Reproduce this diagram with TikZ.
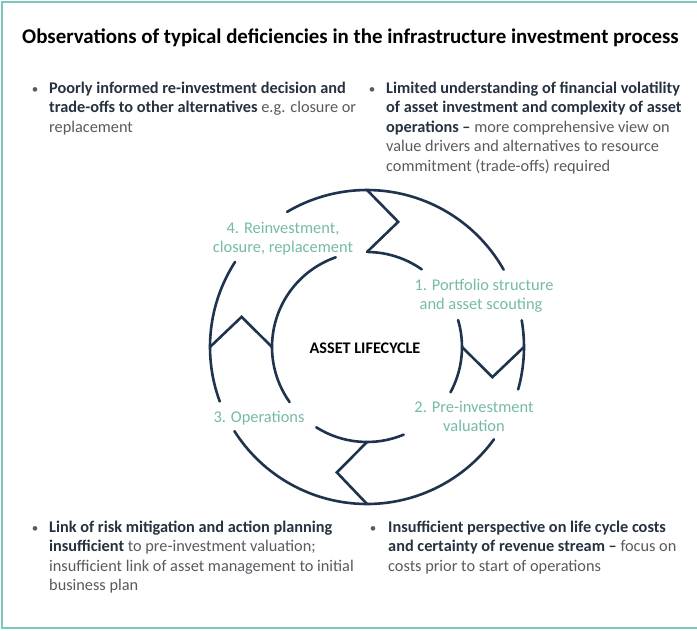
\documentclass[tikz,border=0pt]{standalone}
\usepackage{fontspec}
\setmainfont{Carlito}
\usetikzlibrary{calc}
\definecolor{ringc}{RGB}{31,50,78}
\definecolor{labc}{RGB}{118,186,170}
\definecolor{framec}{RGB}{125,200,187}
\definecolor{boldc}{RGB}{38,50,64}
\definecolor{regc}{RGB}{88,90,95}
\newcommand{\bt}[1]{\textcolor{boldc}{\bfseries #1}}
\begin{document}
\begin{tikzpicture}[x=1pt,y=-1pt,
  ring/.style={draw=ringc, line width=2.6pt, line cap=round, line join=miter},
  txt/.style={anchor=base west, inner sep=0pt, font=\fontsize{16.3}{19}\selectfont, text=regc},
  bul/.style={anchor=base, inner sep=0pt, font=\fontsize{13}{16}\selectfont, text=regc},
  lab/.style={anchor=base, inner sep=0pt, font=\fontsize{16.4}{19}\selectfont, text=labc},
  ttl/.style={anchor=base west, inner sep=0pt, font=\fontsize{20.9}{24}\selectfont\bfseries, text=black}]
\useasboundingbox (0,0) rectangle (697,630);
\fill[white] (0,0) rectangle (697,630);
\draw[framec, line width=1.5pt] (697,2) -- (2,2) -- (2,628) -- (697,628);

% title
\node[ttl] (title) at (22,43) {Observations of typical deficiencies in the infrastructure investment process};

% ring
\coordinate (C) at (367,347);
\def\Ro{157}\def\Ri{95}\def\Rm{129}
% outer arcs
\draw[ring] ($(C)+(-120.6:\Ro)$) arc[start angle=-120.6, end angle=-29.5, radius=\Ro];
\draw[ring] ($(C)+(-9.8:\Ro)$) arc[start angle=-9.8, end angle=15.7, radius=\Ro];
\draw[ring] ($(C)+(36:\Ro)$) arc[start angle=36, end angle=147.6, radius=\Ro];
\draw[ring] ($(C)+(159.7:\Ro)$) arc[start angle=159.7, end angle=212.8, radius=\Ro];
% inner arcs
\draw[ring] ($(C)+(-89.4:\Ri)$) arc[start angle=-89.4, end angle=-54.8, radius=\Ri];
\draw[ring] ($(C)+(-109.2:\Ri)$) arc[start angle=-109.2, end angle=-215.5, radius=\Ri];
\draw[ring] ($(C)+(-16.5:\Ri)$) arc[start angle=-16.5, end angle=28.5, radius=\Ri];
\draw[ring] ($(C)+(122.3:\Ri)$) arc[start angle=122.3, end angle=67.3, radius=\Ri];
% zigzags
\draw[ring] ($(C)+(-90:\Ro)$) coordinate (zt1) -- ($(C)+(-76:\Rm)$) coordinate (zt2) -- ($(C)+(-90:\Ri)$) coordinate (zt3);
\draw[ring] ($(C)+(0:\Ro)$) coordinate (zr1) -- ($(C)+(13.5:\Rm)$) coordinate (zr2) -- ($(C)+(0:\Ri)$) coordinate (zr3);
\draw[ring] ($(C)+(90:\Ro)$) coordinate (zb1) -- ($(C)+(103.5:\Rm)$) coordinate (zb2) -- ($(C)+(90:\Ri)$) coordinate (zb3);
\draw[ring] ($(C)+(180:\Ro)$) coordinate (zl1) -- ($(C)+(-166.5:\Rm)$) coordinate (zl2) -- ($(C)+(180:\Ri)$) coordinate (zl3);

% ring labels
\node[anchor=base, inner sep=0pt, font=\fontsize{16.2}{19}\selectfont\bfseries, text=black] (center) at (365,353) {ASSET LIFECYCLE};
\node[lab] (l4a) at (283,233) {4. Reinvestment,};
\node[lab] (l4b) at (283,252) {closure, replacement};
\node[lab] (l1a) at (484,290) {1. Portfolio structure};
\node[lab] (l1b) at (481,309) {and asset scouting};
\node[lab] (l2a) at (474,412) {2. Pre-investment};
\node[lab] (l2b) at (474,431) {valuation};
\node[lab] (l3a) at (259,422) {3. Operations};

% top-left bullet
\node[bul] (b1) at (35,93) {•};
\node[txt] (t1a) at (49,93) {\bt{Poorly informed re-investment decision and}};
\node[txt] (t1b) at (49,112.5) {\bt{trade-offs to other alternatives} e.g. closure or};
\node[txt] (t1c) at (49,132) {replacement};

% top-right bullet
\node[bul] (b2) at (372,93) {•};
\node[txt] (t2a) at (386,93) {\bt{Limited understanding of financial volatility}};
\node[txt] (t2b) at (386,112.5) {\bt{of asset investment and complexity of asset}};
\node[txt] (t2c) at (386,132) {\bt{operations --} more comprehensive view on};
\node[txt] (t2d) at (386,151.5) {value drivers and alternatives to resource};
\node[txt] (t2e) at (386,171) {commitment (trade-offs) required};

% bottom-left bullet
\node[bul] (b3) at (35,532) {•};
\node[txt] (t3a) at (49,532) {\bt{Link of risk mitigation and action planning}};
\node[txt] (t3b) at (49,551.5) {\bt{insufficient} to pre-investment valuation;};
\node[txt] (t3c) at (49,571) {insufficient link of asset management to initial};
\node[txt] (t3d) at (49,590.5) {business plan};

% bottom-right bullet
\node[bul] (b4) at (373,532) {•};
\node[txt] (t4a) at (388,532) {\bt{Insufficient perspective on life cycle costs}};
\node[txt] (t4b) at (388,551.5) {\bt{and certainty of revenue stream --} focus on};
\node[txt] (t4c) at (388,571) {costs prior to start of operations};
\end{tikzpicture}
\end{document}
